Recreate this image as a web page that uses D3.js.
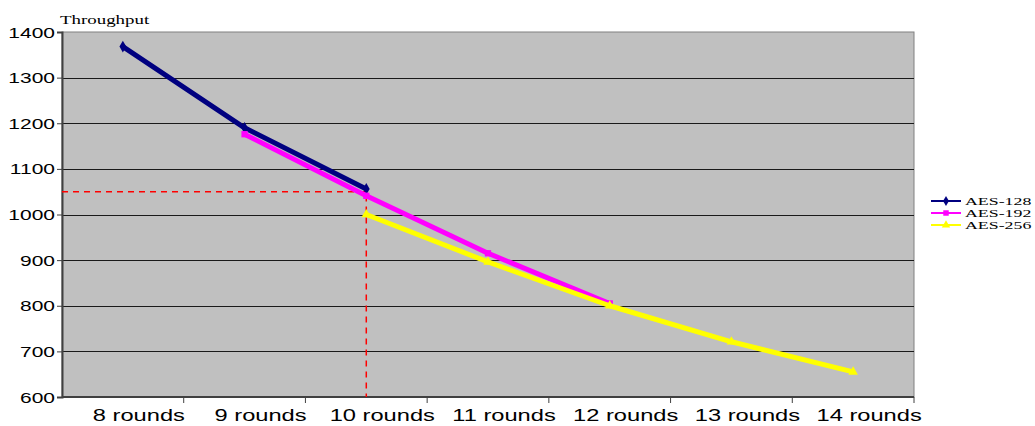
<!DOCTYPE html>
<html>
<head>
<meta charset="utf-8">
<script src="https://cdn.jsdelivr.net/npm/d3@7"></script>
<style>
  html, body { margin: 0; padding: 0; background: #fff; }
  svg { display: block; }
</style>
</head>
<body>
<svg id="chart" width="1035" height="426"></svg>
<script>
// Throughput of AES variants by number of rounds
const categories = ["8 rounds", "9 rounds", "10 rounds", "11 rounds", "12 rounds", "13 rounds", "14 rounds"];
const aes128 = [1368, 1190, 1056, null, null, null, null];
const aes192 = [null, 1176, 1041, 915, 805, null, null];
const aes256 = [null, null, 1000, 896, 800, 721, 655];
const seriesNames = ["AES-128", "AES-192", "AES-256"];
const yTicks = [600, 700, 800, 900, 1000, 1100, 1200, 1300, 1400];
const refValue = 1050;
const refCategory = "10 rounds";

const series = [
  { name: seriesNames[0], values: aes128, color: "#000080", shape: d3.symbolDiamond },
  { name: seriesNames[1], values: aes192, color: "#ff00ff", shape: d3.symbolSquare },
  { name: seriesNames[2], values: aes256, color: "#ffff00", shape: d3.symbolTriangle }
];

const svg = d3.select("#chart");
const plot = { left: 62, right: 914, top: 32, bottom: 397 };
const SX = 1.4; // horizontal text stretch

const x = d3.scaleBand().domain(categories).range([plot.left, plot.right]).padding(0);
const y = d3.scaleLinear().domain([600, 1400]).range([plot.bottom, plot.top]);
const cx = c => x(c) + x.bandwidth() / 2;

// plot background
svg.append("rect")
  .attr("x", plot.left).attr("y", plot.top)
  .attr("width", plot.right - plot.left).attr("height", plot.bottom - plot.top)
  .attr("fill", "#c0c0c0").attr("stroke", "#808080").attr("stroke-width", 1);

// horizontal gridlines
svg.append("g").selectAll("line").data(yTicks.filter(v => v > 600 && v < 1400)).join("line")
  .attr("x1", plot.left).attr("x2", plot.right)
  .attr("y1", d => Math.round(y(d)) + 0.5).attr("y2", d => Math.round(y(d)) + 0.5)
  .attr("stroke", "#1a1a1a").attr("stroke-width", 1);

// y axis
const yAxis = svg.append("g").attr("transform", `translate(${plot.left},0)`)
  .call(d3.axisLeft(y).tickValues(yTicks).tickSize(5).tickFormat(d3.format("d")));
yAxis.select(".domain").attr("stroke", "#404040").attr("stroke-width", 2);
yAxis.selectAll(".tick line").attr("stroke", "#404040");
yAxis.selectAll(".tick text").each(function() {
  const t = d3.select(this);
  t.attr("x", null).attr("dy", null)
   .attr("transform", `translate(-7,5) scale(${SX},1)`)
   .attr("font-family", "Liberation Sans, Arial, sans-serif")
   .attr("font-size", 15).attr("fill", "#000").attr("text-anchor", "end");
});

// x axis with ticks at category boundaries
const xg = svg.append("g").attr("transform", `translate(0,${plot.bottom})`);
xg.append("line").attr("x1", plot.left).attr("x2", plot.right).attr("y1", 0).attr("y2", 0)
  .attr("stroke", "#404040").attr("stroke-width", 2);
xg.selectAll("line.tk").data(categories).join("line")
  .attr("class", "tk")
  .attr("x1", d => x(d) + x.bandwidth())
  .attr("x2", d => x(d) + x.bandwidth())
  .attr("y1", 0).attr("y2", 6).attr("stroke", "#404040");
xg.selectAll("text").data(categories).join("text")
  .attr("transform", d => `translate(${cx(d) + 16},24) scale(1.48,1)`)
  .attr("text-anchor", "middle")
  .attr("font-family", "Liberation Sans, Arial, sans-serif")
  .attr("font-size", 16).attr("fill", "#000")
  .text(d => d);

// title
svg.append("text")
  .attr("transform", `translate(60,24) scale(${SX},1)`)
  .attr("font-family", "Liberation Serif, Times New Roman, serif")
  .attr("font-size", 13.5).attr("fill", "#000")
  .text("Throughput");

// dashed reference lines
svg.append("path")
  .attr("d", `M${plot.left},${y(refValue)}H${cx(refCategory)}V${plot.bottom}`)
  .attr("fill", "none").attr("stroke", "#ff0000").attr("stroke-width", 1.5)
  .attr("stroke-dasharray", "6,5");

// series lines and markers
const line = d3.line()
  .defined(d => d.v != null)
  .x(d => cx(d.c)).y(d => y(d.v));

series.forEach(s => {
  const pts = categories.map((c, i) => ({ c, v: s.values[i] }));
  svg.append("path").datum(pts)
    .attr("d", line).attr("fill", "none")
    .attr("stroke", s.color).attr("stroke-width", 5)
    .attr("stroke-linejoin", "round");
  svg.append("g").selectAll("path").data(pts.filter(d => d.v != null)).join("path")
    .attr("transform", d => `translate(${cx(d.c)},${y(d.v)})`)
    .attr("d", d3.symbol().type(s.shape).size(40))
    .attr("fill", s.color);
});

// legend
const lg = svg.append("g");
series.forEach((s, i) => {
  const ly = 201 + i * 12;
  lg.append("line").attr("x1", 931).attr("x2", 961).attr("y1", ly).attr("y2", ly)
    .attr("stroke", s.color).attr("stroke-width", 2);
  lg.append("path").attr("transform", `translate(946,${ly})`)
    .attr("d", d3.symbol().type(s.shape).size(30)).attr("fill", s.color);
  lg.append("text")
    .attr("transform", `translate(965,${ly + 4}) scale(1.62,1)`)
    .attr("font-family", "Liberation Serif, Times New Roman, serif")
    .attr("font-size", 11).attr("fill", "#000")
    .text(s.name);
});
</script>
</body>
</html>
